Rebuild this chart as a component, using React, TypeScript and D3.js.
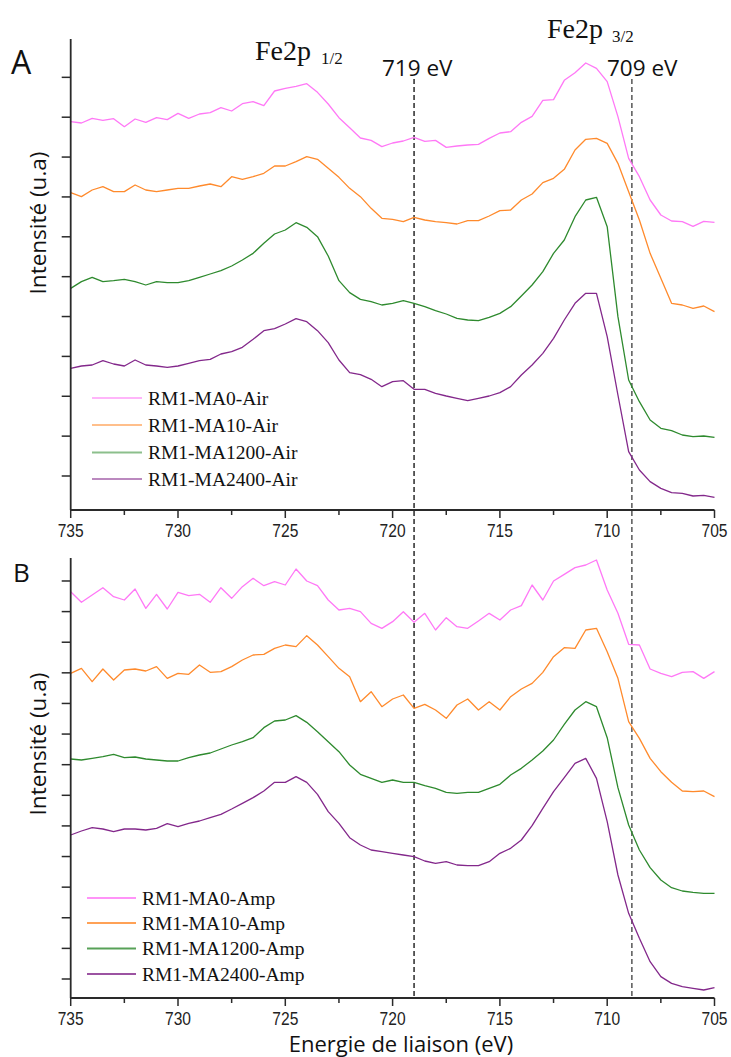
import React from 'react';
import * as d3 from 'd3';

// Binding energy grid (eV), 0.5 eV steps from 735 to 705
const ENERGY = d3.range(61).map((i) => 735 - i * 0.5);
const X_TICKS_MAJOR = [735, 730, 725, 720, 715, 710, 705];
const X_TICKS_MINOR = [732.5, 727.5, 722.5, 717.5, 712.5, 707.5];
const MARKERS = [719, 708.85];
const MARKER_LABELS = ['719 eV', '709 eV'];

// Panel A (Air) intensities, a.u.
const airMA0 = [1180, 1176, 1190, 1184, 1189, 1165, 1188, 1178, 1192, 1186, 1205, 1190, 1203, 1207, 1222, 1212, 1234, 1240, 1228, 1272, 1280, 1286, 1294, 1268, 1233, 1192, 1162, 1131, 1124, 1105, 1116, 1122, 1133, 1121, 1124, 1103, 1107, 1110, 1112, 1130, 1146, 1150, 1178, 1196, 1244, 1246, 1304, 1327, 1356, 1340, 1300, 1195, 1070, 1015, 945, 900, 882, 880, 866, 881, 878];
const airMA10 = [967, 955, 975, 985, 970, 970, 990, 975, 970, 975, 980, 980, 987, 993, 985, 1015, 1007, 1015, 1025, 1047, 1047, 1060, 1075, 1067, 1040, 1013, 980, 955, 920, 890, 887, 880, 893, 885, 880, 877, 873, 883, 883, 897, 913, 915, 945, 963, 997, 1010, 1037, 1095, 1127, 1130, 1115, 1055, 970, 885, 785, 710, 635, 630, 620, 627, 610];
const airMA1200 = [680, 700, 713, 700, 703, 707, 700, 690, 700, 697, 697, 703, 713, 723, 733, 747, 765, 785, 815, 843, 855, 877, 863, 835, 777, 703, 667, 647, 640, 630, 635, 643, 635, 625, 613, 603, 590, 585, 583, 593, 605, 625, 657, 690, 730, 785, 825, 895, 945, 953, 865, 595, 405, 340, 285, 260, 253, 240, 235, 237, 233];
const airMA2400 = [440, 447, 450, 463, 453, 447, 465, 450, 447, 443, 447, 455, 463, 467, 483, 490, 503, 527, 553, 559, 573, 589, 580, 553, 517, 465, 427, 421, 407, 385, 400, 403, 377, 377, 365, 357, 350, 343, 350, 357, 367, 385, 420, 450, 485, 530, 585, 635, 665, 665, 535, 360, 190, 135, 100, 80, 67, 65, 57, 59, 53];

// Panel B (Amp) intensities, a.u.
const ampMA0 = [1219, 1187, 1209, 1231, 1204, 1194, 1227, 1169, 1211, 1167, 1217, 1207, 1211, 1187, 1231, 1199, 1234, 1259, 1237, 1249, 1239, 1287, 1251, 1237, 1194, 1164, 1169, 1159, 1124, 1109, 1129, 1159, 1127, 1154, 1104, 1141, 1114, 1109, 1131, 1154, 1134, 1164, 1177, 1239, 1194, 1251, 1271, 1291, 1299, 1314, 1224, 1154, 1061, 1059, 987, 974, 964, 977, 979, 959, 979];
const ampMA10 = [974, 989, 949, 987, 954, 984, 987, 981, 994, 959, 974, 971, 999, 977, 979, 994, 1014, 1029, 1031, 1049, 1059, 1054, 1087, 1059, 1024, 989, 964, 889, 919, 874, 897, 909, 869, 881, 864, 839, 879, 897, 864, 889, 864, 904, 927, 944, 977, 1024, 1051, 1049, 1104, 1109, 1039, 959, 829, 779, 719, 679, 647, 621, 619, 621, 604];
const ampMA1200 = [717, 714, 719, 724, 731, 721, 723, 717, 714, 711, 711, 721, 729, 735, 747, 759, 769, 781, 811, 831, 834, 847, 827, 799, 769, 739, 699, 671, 659, 647, 654, 647, 647, 637, 629, 617, 614, 617, 617, 629, 641, 669, 689, 714, 741, 774, 821, 864, 889, 874, 781, 631, 519, 444, 391, 354, 331, 321, 317, 314, 314];
const ampMA2400 = [489, 501, 511, 507, 499, 507, 507, 504, 509, 523, 514, 524, 531, 541, 551, 567, 584, 601, 621, 647, 647, 664, 647, 611, 559, 524, 481, 459, 444, 439, 434, 429, 424, 411, 404, 409, 399, 397, 397, 409, 434, 449, 474, 517, 569, 619, 661, 704, 719, 659, 529, 369, 254, 179, 109, 64, 44, 34, 29, 24, 31];

const NAMES_A = ['RM1-MA0-Air', 'RM1-MA10-Air', 'RM1-MA1200-Air', 'RM1-MA2400-Air'];
const NAMES_B = ['RM1-MA0-Amp', 'RM1-MA10-Amp', 'RM1-MA1200-Amp', 'RM1-MA2400-Amp'];
const COLORS = ['#FF78F6', '#FF8A2C', '#2E8A2E', '#83288B'];

const X0 = 70.7;
const X1 = 714.5;
const x = d3.scaleLinear().domain([735, 705]).range([X0, X1]);

type PanelProps = {
  top: number;
  bottom: number;
  yMin: number;
  yMax: number;
  yTicks: number[];
  series: number[][];
  names: string[];
  letter: string;
  letterX: number;
  letterY: number;
  letterSize: number;
  labelY: number;
  legend: { x1: number; x2: number; tx: number; ys: number[]; opacity: number };
};

function Panel(p: PanelProps) {
  const y = d3.scaleLinear().domain([p.yMin, p.yMax]).range([p.bottom, p.top]);
  const line = d3
    .line<number>()
    .x((_, i) => x(ENERGY[i]))
    .y((d) => y(d));
  return (
    <g>
      {p.series.map((s, i) => (
        <path key={i} d={line(s) || ''} fill="none" stroke={COLORS[i]} strokeWidth={1.3} strokeLinejoin="round" />
      ))}
      <line x1={X0} x2={X0} y1={p.top} y2={p.bottom} stroke="#2a2a2a" strokeWidth={1.8} />
      <line x1={X0} x2={X1} y1={p.bottom} y2={p.bottom} stroke="#2a2a2a" strokeWidth={1.8} />
      {p.yTicks.map((t, i) => (
        <line key={i} x1={X0 - 9} x2={X0} y1={y(t)} y2={y(t)} stroke="#2a2a2a" strokeWidth={1.5} />
      ))}
      {X_TICKS_MAJOR.map((t) => (
        <line key={'M' + t} x1={x(t)} x2={x(t)} y1={p.bottom} y2={p.bottom + 8} stroke="#2a2a2a" strokeWidth={1.5} />
      ))}
      {X_TICKS_MINOR.map((t) => (
        <line key={'m' + t} x1={x(t)} x2={x(t)} y1={p.bottom} y2={p.bottom + 5} stroke="#2a2a2a" strokeWidth={1.5} />
      ))}
      {X_TICKS_MAJOR.map((t) => (
        <text
          key={'l' + t}
          transform={`translate(${x(t)},${p.bottom + 27}) scale(0.82,1)`}
          textAnchor="middle"
          fontFamily="Liberation Sans, Arial, sans-serif"
          fontSize={19}
          fill="#222"
        >
          {t}
        </text>
      ))}
      {p.names.map((n, i) => (
        <g key={n}>
          <line
            x1={p.legend.x1}
            x2={p.legend.x2}
            y1={p.legend.ys[i]}
            y2={p.legend.ys[i]}
            stroke={COLORS[i]}
            strokeOpacity={p.legend.opacity}
            strokeWidth={2.2}
          />
          <text
            x={p.legend.tx}
            y={p.legend.ys[i] + 6.5}
            fontFamily="Liberation Serif, Times New Roman, serif"
            fontSize={19.5}
            fill="#111"
          >
            {n}
          </text>
        </g>
      ))}
      <text
        transform={`translate(46,${p.labelY}) rotate(-90)`}
        textAnchor="middle"
        fontFamily="Open Sans, sans-serif"
        fontSize={22.5}
        fill="#111"
      >
        Intensité (u.a)
      </text>
      <text x={p.letterX} y={p.letterY} fontFamily="Open Sans, sans-serif" fontSize={p.letterSize} fill="#111">
        {p.letter}
      </text>
    </g>
  );
}

export default function App() {
  const ticksA = d3.range(11).map((k) => 117 + 119.6 * k);
  const ticksB = d3.range(14).map((k) => 57 + 91.85 * k);
  return (
    <svg
      width={731}
      height={1057}
      style={{ position: 'absolute', left: 0, top: 0, background: '#fff' }}
    >
      <rect x={0} y={0} width={731} height={1057} fill="#fff" />
      {MARKERS.map((m, i) => (
        <line
          key={m}
          x1={x(m)}
          x2={x(m)}
          y1={79}
          y2={998}
          stroke={i === 0 ? '#1a1a1a' : '#4a4a4a'}
          strokeWidth={1.4}
          strokeDasharray="5,3"
        />
      ))}
      <Panel
        top={39}
        bottom={510}
        yMin={15}
        yMax={1428}
        yTicks={ticksA}
        series={[airMA0, airMA10, airMA1200, airMA2400]}
        names={NAMES_A}
        letter="A"
        letterX={11}
        letterY={74}
        letterSize={32}
        labelY={223}
        legend={{ x1: 92, x2: 142, tx: 148, ys: [398, 425, 452.5, 479], opacity: 0.55 }}
      />
      <Panel
        top={558}
        bottom={998}
        yMin={0}
        yMax={1320}
        yTicks={ticksB}
        series={[ampMA0, ampMA10, ampMA1200, ampMA2400]}
        names={NAMES_B}
        letter="B"
        letterX={13}
        letterY={582}
        letterSize={26}
        labelY={744}
        legend={{ x1: 87, x2: 136, tx: 142, ys: [898, 923, 948.5, 974], opacity: 0.8 }}
      />
      <text x={255} y={60} fontFamily="Liberation Serif, Times New Roman, serif" fontSize={28} fill="#111">
        Fe2p
      </text>
      <text x={321} y={64} fontFamily="Liberation Serif, Times New Roman, serif" fontSize={17} fill="#111">
        1/2
      </text>
      <text x={547} y={38} fontFamily="Liberation Serif, Times New Roman, serif" fontSize={28} fill="#111">
        Fe2p
      </text>
      <text x={612} y={42} fontFamily="Liberation Serif, Times New Roman, serif" fontSize={17} fill="#111">
        3/2
      </text>
      <text x={382} y={76} fontFamily="Open Sans, sans-serif" fontSize={22.5} fill="#111">
        {MARKER_LABELS[0]}
      </text>
      <text x={607} y={76} fontFamily="Open Sans, sans-serif" fontSize={22.5} fill="#111">
        {MARKER_LABELS[1]}
      </text>
      <text x={401} y={1052} textAnchor="middle" fontFamily="Open Sans, sans-serif" fontSize={22} fill="#111">
        Energie de liaison (eV)
      </text>
    </svg>
  );
}
